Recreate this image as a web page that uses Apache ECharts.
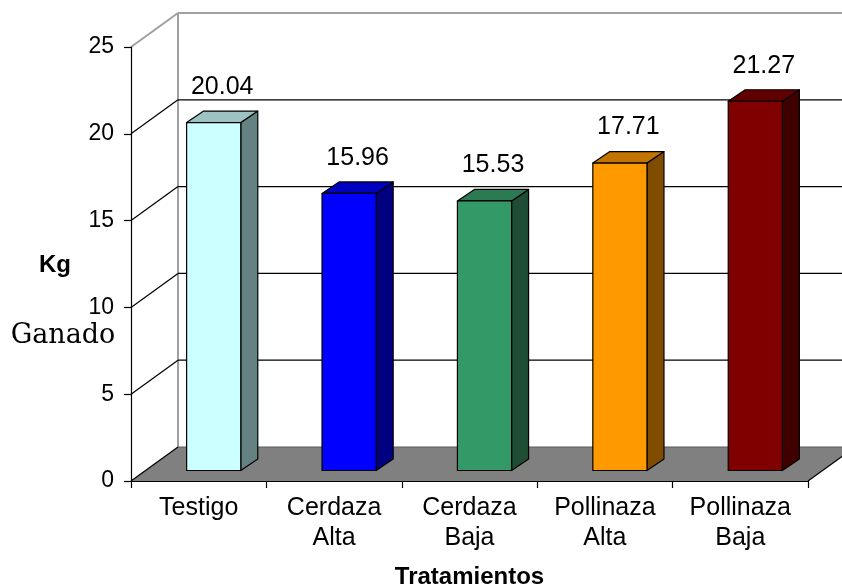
<!DOCTYPE html>
<html>
<head>
<meta charset="utf-8">
<script src="https://cdn.jsdelivr.net/npm/echarts@6/dist/echarts.min.js"></script>
<style>
  html, body { margin: 0; padding: 0; background: #ffffff; }
  #chart { width: 842px; height: 587px; }
</style>
</head>
<body>
<div id="chart"></div>
<script>
// Weight gained per treatment (kg)
const categories = ['Testigo', 'Cerdaza\nAlta', 'Cerdaza\nBaja', 'Pollinaza\nAlta', 'Pollinaza\nBaja'];
const gainKg = [20.04, 15.96, 15.53, 17.71, 21.27];
const yTicks = [0, 5, 10, 15, 20, 25];

// Face shading of each box: front, top, right side
const faceColors = ['#CCFFFF', '#0000FF', '#339966', '#FF9900', '#800000'];
const topColors  = ['#9CC2C2', '#0000C0', '#2B7A52', '#C27400', '#600000'];
const sideColors = ['#658282', '#000080', '#1E4D34', '#804D00', '#400000'];

const yMin = yTicks[0];
const yMax = yTicks[yTicks.length - 1];
const yStep = yTicks[1] - yTicks[0];

// Oblique projection of the chart depth
const DEPTH_X = 47, DEPTH_Y = -34;
// Boxes sit part-way into the depth and are shallower than the floor
const BAR_INSET_X = 15, BAR_INSET_Y = -10.5;
const BAR_DEPTH_X = 17, BAR_DEPTH_Y = -11.5;
const BAR_RATIO = 0.4;
const LABEL_LIFT = 24;

const SANS = '"Liberation Sans", Arial, sans-serif';

function seg(x1, y1, x2, y2, stroke, lineWidth) {
  return { type: 'line', shape: { x1, y1, x2, y2 }, style: { stroke, lineWidth } };
}

// Floor, back wall, side wall and their gridlines
function renderFrame(params, api) {
  const cs = params.coordSys;
  const L = cs.x, R = cs.x + cs.width;
  const yFloor = api.coord([0, yMin])[1];
  const yCeil = api.coord([0, yMax])[1];
  const farRight = R + DEPTH_X;
  const kids = [];

  kids.push({
    type: 'polygon',
    shape: { points: [[L, yFloor], [R, yFloor], [R + DEPTH_X, yFloor + DEPTH_Y], [L + DEPTH_X, yFloor + DEPTH_Y]] },
    style: { fill: '#808080' }
  });

  kids.push(seg(L + DEPTH_X, yCeil + DEPTH_Y, L + DEPTH_X, yFloor + DEPTH_Y, '#a0a0a0', 2));
  kids.push(seg(L + DEPTH_X, yCeil + DEPTH_Y, farRight, yCeil + DEPTH_Y, '#a0a0a0', 2));
  kids.push(seg(L, yCeil, L + DEPTH_X, yCeil + DEPTH_Y, '#a0a0a0', 2));

  for (let v = yMin + yStep; v < yMax; v += yStep) {
    const y = api.coord([0, v])[1];
    kids.push(seg(L, y, L + DEPTH_X, y + DEPTH_Y, '#000', 1.2));
    kids.push(seg(L + DEPTH_X, y + DEPTH_Y, farRight, y + DEPTH_Y, '#000', 1.2));
  }

  kids.push(seg(L + DEPTH_X, yFloor + DEPTH_Y, farRight, yFloor + DEPTH_Y, '#5a5a5a', 1));
  kids.push(seg(L, yFloor, L + DEPTH_X, yFloor + DEPTH_Y, '#000', 1.2));
  kids.push(seg(R, yFloor, R + DEPTH_X, yFloor + DEPTH_Y, '#000', 1.2));

  return { type: 'group', children: kids };
}

// One shaded box per treatment with its value above it
function renderBar(params, api) {
  const i = api.value(0);
  const v = api.value(1);
  const base = api.coord([i, yMin]);
  const top = api.coord([i, v]);
  const w = api.size([1, 0])[0] * BAR_RATIO;
  const x0 = base[0] - w / 2 + BAR_INSET_X;
  const x1 = x0 + w;
  const yb = base[1] + BAR_INSET_Y;
  const yt = top[1] + BAR_INSET_Y;
  const dx = BAR_DEPTH_X, dy = BAR_DEPTH_Y;
  const edge = { stroke: '#000', lineWidth: 1.2, lineJoin: 'round' };

  return {
    type: 'group',
    children: [
      {
        type: 'polygon',
        shape: { points: [[x1, yt], [x1 + dx, yt + dy], [x1 + dx, yb + dy], [x1, yb]] },
        style: Object.assign({ fill: sideColors[i] }, edge)
      },
      {
        type: 'polygon',
        shape: { points: [[x0, yt], [x0 + dx, yt + dy], [x1 + dx, yt + dy], [x1, yt]] },
        style: Object.assign({ fill: topColors[i] }, edge)
      },
      {
        type: 'rect',
        shape: { x: x0, y: yt, width: w, height: yb - yt },
        style: Object.assign({ fill: faceColors[i] }, edge)
      },
      {
        type: 'text',
        x: x0 + w / 2 + dx / 2,
        y: yt + dy - LABEL_LIFT,
        style: {
          text: v.toFixed(2),
          font: '25px ' + SANS,
          fill: '#000',
          align: 'center',
          verticalAlign: 'middle',
          textAlign: 'center',
          textVerticalAlign: 'middle'
        }
      }
    ]
  };
}

const chart = echarts.init(document.getElementById('chart'), null, { renderer: 'canvas' });

chart.setOption({
  backgroundColor: '#ffffff',
  animation: false,
  grid: { left: 131, right: 34, top: 47, bottom: 106, containLabel: false, outerBoundsMode: 'none' },
  xAxis: {
    type: 'category',
    data: categories,
    z: 5,
    axisLine: { show: true, lineStyle: { color: '#000', width: 1.2 } },
    axisTick: { show: true, length: 7, lineStyle: { color: '#000', width: 1.2 } },
    axisLabel: {
      interval: 0,
      margin: 12,
      color: '#000',
      fontFamily: SANS,
      fontSize: 25,
      lineHeight: 30
    },
    splitLine: { show: false },
    name: 'Tratamientos',
    nameLocation: 'middle',
    nameGap: 84,
    nameTextStyle: { color: '#000', fontFamily: SANS, fontSize: 24, fontWeight: 'bold', lineHeight: 24 }
  },
  yAxis: {
    type: 'value',
    min: yMin,
    max: yMax,
    interval: yStep,
    z: 5,
    axisLine: { show: true, lineStyle: { color: '#000', width: 1.2 } },
    axisTick: { show: true, length: 7, lineStyle: { color: '#000', width: 1.2 } },
    axisLabel: { margin: 17, color: '#000', fontFamily: SANS, fontSize: 23 },
    splitLine: { show: false }
  },
  graphic: [
    {
      type: 'text', x: 55, y: 265, z: 10,
      style: { text: 'Kg', font: 'bold 24px ' + SANS, fill: '#000', align: 'center', verticalAlign: 'middle' }
    },
    {
      type: 'text', x: 63, y: 336, z: 10,
      style: { text: 'Ganado', font: '27px "DejaVu Serif", serif', fill: '#000', align: 'center', verticalAlign: 'middle' }
    }
  ],
  series: [
    {
      type: 'custom',
      name: 'frame',
      z: 1,
      silent: true,
      clip: false,
      renderItem: renderFrame,
      data: [[0, 0]]
    },
    {
      type: 'custom',
      name: 'Kg Ganado',
      z: 2,
      clip: false,
      renderItem: renderBar,
      encode: { x: 0, y: 1 },
      data: gainKg.map((v, i) => [i, v])
    }
  ]
});
</script>
</body>
</html>
